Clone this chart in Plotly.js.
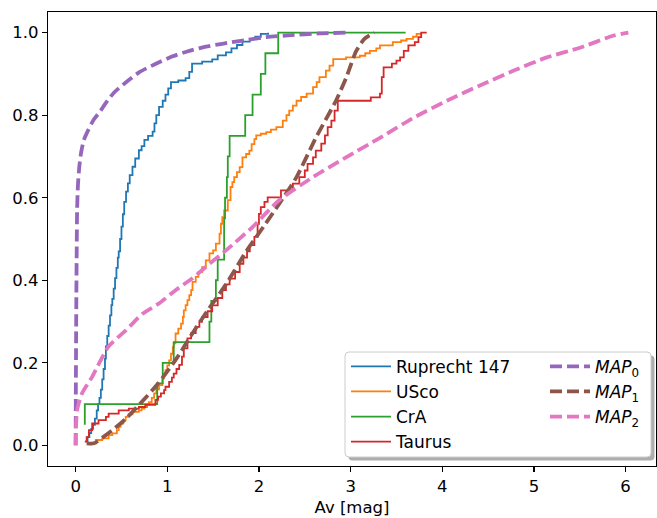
<!DOCTYPE html>
<html><head><meta charset="utf-8">
<script src="https://cdn.plot.ly/plotly-3.0.1.min.js"></script>
<style>html,body{margin:0;padding:0;background:#fff}#chart{width:657px;height:518px}</style>
</head><body><div id="chart"></div>
<script>
// ---- data (cumulative distributions of Av) ----
const rupAv  = [0.11,0.13,0.15,0.17,0.19,0.21,0.23,0.245,0.26,0.275,0.29,0.305,0.32,0.33,0.345,0.36,0.375,0.39,0.40,0.415,0.43,0.445,0.46,0.47,0.485,0.50,0.515,0.53,0.55,0.57,0.59,0.62,0.65,0.69,0.72,0.75,0.79,0.84,0.86,0.88,0.91,0.95,0.98,1.01,1.04,1.12,1.20,1.24,1.27,1.38,1.49,1.55,1.64,1.70,1.76,1.82,1.90,1.96,2.02,2.10];
const rupCdf = [0.01,0.02,0.03,0.04,0.05,0.065,0.085,0.10,0.115,0.135,0.16,0.185,0.21,0.24,0.265,0.29,0.315,0.34,0.355,0.38,0.405,0.43,0.455,0.47,0.50,0.53,0.56,0.59,0.615,0.635,0.655,0.675,0.695,0.715,0.725,0.74,0.75,0.76,0.78,0.80,0.82,0.835,0.85,0.865,0.88,0.884,0.89,0.905,0.925,0.93,0.935,0.945,0.952,0.962,0.97,0.978,0.985,0.99,0.997,1.0];

const uscoAv  = [0.17,0.22,0.29,0.36,0.40,0.45,0.47,0.49,0.52,0.546,0.58,0.62,0.69,0.72,0.75,0.78,0.80,0.83,0.856,0.88,0.91,0.946,0.96,0.98,1.00,1.02,1.04,1.06,1.07,1.09,1.12,1.15,1.17,1.18,1.20,1.22,1.24,1.26,1.275,1.31,1.34,1.38,1.42,1.46,1.50,1.53,1.57,1.585,1.60,1.62,1.66,1.69,1.71,1.73,1.76,1.79,1.82,1.86,1.895,1.92,1.95,1.97,2.02,2.08,2.13,2.19,2.26,2.30,2.33,2.37,2.41,2.46,2.52,2.59,2.63,2.66,2.73,2.77,2.81,2.95,3.10,3.16,3.21,3.28,3.32,3.46,3.55,3.61,3.68,3.72,3.77];
const uscoCdf = [0.005,0.013,0.017,0.025,0.029,0.037,0.045,0.053,0.061,0.069,0.075,0.081,0.085,0.089,0.093,0.099,0.105,0.115,0.126,0.136,0.146,0.162,0.172,0.182,0.194,0.206,0.222,0.238,0.247,0.271,0.283,0.295,0.311,0.327,0.34,0.352,0.364,0.376,0.396,0.408,0.42,0.432,0.448,0.465,0.4725,0.489,0.513,0.537,0.553,0.569,0.594,0.626,0.638,0.65,0.662,0.674,0.698,0.706,0.714,0.73,0.742,0.751,0.755,0.759,0.765,0.771,0.787,0.80,0.811,0.823,0.835,0.844,0.852,0.868,0.88,0.892,0.908,0.92,0.936,0.94,0.944,0.95,0.956,0.962,0.969,0.977,0.981,0.985,0.99,0.997,1.0];

const craAv  = [0.10,0.10,0.89,0.95,1.07,1.46,1.48,1.53,1.55,1.62,1.62,1.63,1.65,1.66,1.68,1.85,1.93,2.02,2.07,2.21,3.60];
const craCdf = [0.05,0.10,0.15,0.20,0.25,0.30,0.35,0.40,0.45,0.50,0.55,0.60,0.65,0.70,0.75,0.80,0.85,0.90,0.95,1.00,1.00];

const tauAv  = [0.10,0.12,0.145,0.18,0.25,0.33,0.36,0.47,0.58,0.69,0.76,0.87,0.90,0.93,0.965,0.98,1.02,1.05,1.07,1.10,1.13,1.16,1.18,1.22,1.26,1.31,1.35,1.38,1.44,1.49,1.55,1.60,1.64,1.68,1.74,1.79,1.83,1.87,1.90,1.95,1.985,2.00,2.02,2.06,2.095,2.24,2.37,2.44,2.50,2.53,2.59,2.62,2.68,2.72,2.75,2.79,2.825,2.86,3.22,3.32,3.34,3.36,3.45,3.50,3.54,3.58,3.63,3.70,3.74,3.77,3.83];
const tauCdf = [0.009,0.02,0.037,0.053,0.061,0.069,0.077,0.085,0.089,0.093,0.098,0.11,0.118,0.126,0.134,0.142,0.154,0.164,0.174,0.185,0.195,0.215,0.235,0.259,0.272,0.287,0.30,0.311,0.325,0.339,0.357,0.376,0.39,0.404,0.42,0.44,0.455,0.47,0.485,0.505,0.537,0.561,0.577,0.59,0.601,0.618,0.634,0.65,0.666,0.682,0.698,0.714,0.731,0.751,0.771,0.787,0.811,0.835,0.843,0.852,0.892,0.916,0.925,0.932,0.94,0.956,0.969,0.977,0.989,1.0,1.0];

const map0Av  = [0,0.002,0.005,0.008,0.012,0.016,0.025,0.04,0.06,0.09,0.14,0.2,0.27,0.33,0.42,0.55,0.7,0.87,1.05,1.24,1.42,1.6,1.85,2.08,2.35,2.65,2.95];
const map0Cdf = [0,0.12,0.25,0.37,0.48,0.57,0.63,0.675,0.71,0.74,0.765,0.79,0.81,0.83,0.855,0.88,0.905,0.924,0.942,0.956,0.966,0.973,0.982,0.989,0.994,0.998,1.0];

const map1Av  = [0.12,0.2,0.3,0.42,0.55,0.7,0.9,1.1,1.27,1.45,1.64,1.86,2.05,2.22,2.41,2.62,2.84,2.95,3.06,3.15,3.26];
const map1Cdf = [0.005,0.005,0.02,0.04,0.065,0.1,0.15,0.21,0.27,0.33,0.39,0.47,0.53,0.585,0.65,0.745,0.835,0.89,0.955,0.985,1.0];

const map2Av  = [0,0.005,0.02,0.07,0.18,0.36,0.55,0.73,0.91,1.09,1.27,1.46,1.64,1.93,2.22,2.59,2.95,3.32,3.68,4.05,4.41,4.78,5.14,5.51,5.87,6.03];
const map2Cdf = [0,0.05,0.09,0.126,0.166,0.24,0.279,0.319,0.344,0.376,0.404,0.44,0.4725,0.529,0.594,0.65,0.698,0.745,0.793,0.835,0.872,0.908,0.94,0.964,0.993,1.0];

const xTicks = [0,1,2,3,4,5,6];
const yTicks = [0.0,0.2,0.4,0.6,0.8,1.0];

// ---- layout helpers ----
const W = 657, H = 518, M = {l:48, r:1, t:12, b:52};
const pw = W - M.l - M.r, ph = H - M.t - M.b;
const fx = p => (p - M.l) / pw;
const fy = p => (H - M.b - p) / ph;
function roundRect(x0, y0, x1, y1, r) {
  const P = (x, y) => fx(x) + ',' + fy(y);
  return 'M' + P(x0 + r, y0) + ' L' + P(x1 - r, y0) + ' Q' + P(x1, y0) + ' ' + P(x1, y0 + r) +
         ' L' + P(x1, y1 - r) + ' Q' + P(x1, y1) + ' ' + P(x1 - r, y1) +
         ' L' + P(x0 + r, y1) + ' Q' + P(x0, y1) + ' ' + P(x0, y1 - r) +
         ' L' + P(x0, y0 + r) + ' Q' + P(x0, y0) + ' ' + P(x0 + r, y0) + ' Z';
}

const FONT = 'DejaVu Sans, sans-serif';
const step = (x, y, name, color) => ({x, y, name, type: 'scatter', mode: 'lines',
  line: {color, width: 1.8, shape: 'hv'}, legend: 'legend'});
const dash = (x, y, name, color) => ({x, y, name, type: 'scatter', mode: 'lines',
  line: {color, width: 3.8, dash: '12px,5px', shape: 'spline', smoothing: 0.6}, legend: 'legend2'});

const traces = [
  step(rupAv, rupCdf, 'Ruprecht 147', '#1f77b4'),
  step(uscoAv, uscoCdf, 'USco', '#ff7f0e'),
  step(craAv, craCdf, 'CrA', '#2ca02c'),
  step(tauAv, tauCdf, 'Taurus', '#d62728'),
  dash(map0Av, map0Cdf, '<i>MAP</i><sub>0</sub>', '#9467bd'),
  dash(map1Av, map1Cdf, '<i>MAP</i><sub>1</sub>', '#8c564b'),
  dash(map2Av, map2Cdf, '<i>MAP</i><sub>2</sub>', '#e377c2')
];

const legendCommon = {
  bgcolor: 'rgba(0,0,0,0)', borderwidth: 0, font: {family: FONT, size: 17, color: '#000'},
  xanchor: 'left', yanchor: 'top', y: fy(348.8), itemwidth: 40, tracegroupgap: 0,
  orientation: 'v', itemclick: false
};

const axisCommon = {
  showgrid: false, zeroline: false, showline: true, mirror: true,
  linecolor: '#000', linewidth: 1.2, ticks: 'outside', ticklen: 5, tickwidth: 1.2,
  tickcolor: '#000', tickfont: {family: FONT, size: 16.5, color: '#000'}
};

const layout = {
  width: W, height: H, margin: M, paper_bgcolor: '#fff', plot_bgcolor: '#fff',
  font: {family: FONT, color: '#000'},
  showlegend: true,
  legend: Object.assign({}, legendCommon, {x: fx(346)}),
  legend2: Object.assign({}, legendCommon, {x: fx(545)}),
  xaxis: Object.assign({}, axisCommon, {
    range: [-0.3015, 6.3315], tickmode: 'array', tickvals: xTicks, ticktext: xTicks.map(String),
    title: {text: 'Av [mag]', font: {family: FONT, size: 16.5, color: '#000'}, standoff: 6}
  }),
  yaxis: Object.assign({}, axisCommon, {
    range: [-0.05, 1.05], tickmode: 'array', tickvals: yTicks, ticktext: yTicks.map(v => v.toFixed(1))
  }),
  shapes: [
    {type: 'path', xref: 'paper', yref: 'paper', layer: 'above',
     path: roundRect(348.5, 355.5, 654.5, 460.5, 4), fillcolor: 'rgba(0,0,0,0.32)', line: {width: 0}},
    {type: 'path', xref: 'paper', yref: 'paper', layer: 'above',
     path: roundRect(345, 352, 651, 457, 4), fillcolor: '#ffffff', line: {color: '#cccccc', width: 1}}
  ]
};

Plotly.newPlot('chart', traces, layout, {displayModeBar: false, staticPlot: true});
</script>
</body></html>
